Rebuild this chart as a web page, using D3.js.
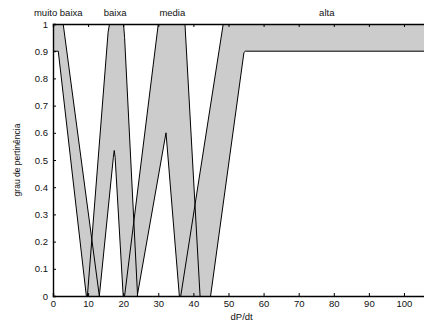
<!DOCTYPE html>
<html><head><meta charset="utf-8">
<script src="https://cdn.jsdelivr.net/npm/d3@7"></script>
<style>
html,body{margin:0;padding:0;background:#fff;}
text{font-family:"Liberation Sans",Arial,Helvetica,sans-serif;fill:#111;}
</style></head>
<body><svg id="c" width="424" height="327"></svg>
<script>
// Membership function data (x = dP/dt, y = membership grade)
const setNames = ["muito baixa", "baixa", "media", "alta"];
const setLabelX = [1.5, 17.7, 34, 78];

const umfMuitoBaixa = [[0,1],[2.9,1],[13.2,0]];
const lmfMuitoBaixa = [[0,0.9],[1.5,0.9],[9.5,0]];

const umfBaixa = [[9.8,0],[15.7,0.97],[16.1,1],[20.1,1],[20.4,0.95],[24.1,0]];
const lmfBaixa = [[13.2,0],[17.2,0.51],[17.45,0.535],[17.7,0.51],[20.0,0]];

const umfMedia = [[20.4,0],[30.0,1],[37.6,1],[41.9,0]];
const lmfMedia = [[24.0,0],[32.2,0.6],[36.0,0]];

const umfAlta = [[36.4,0],[48.5,1],[110,1]];
const lmfAlta = [[44.9,0],[54.4,0.895],[54.8,0.9],[110,0.9]];

const xTicks = [0,10,20,30,40,50,60,70,80,90,100];
const yTicks = [0,0.1,0.2,0.3,0.4,0.5,0.6,0.7,0.8,0.9,1];

const sets = [
  {umf: umfMuitoBaixa, lmf: lmfMuitoBaixa},
  {umf: umfBaixa, lmf: lmfBaixa},
  {umf: umfMedia, lmf: lmfMedia},
  {umf: umfAlta, lmf: lmfAlta}
];

const L = 53, T = 24, B = 296, R = 430.3;
const svg = d3.select("#c");
const x = d3.scaleLinear().domain([0, 107.5]).range([L, R]);
const y = d3.scaleLinear().domain([0, 1]).range([B, T]);

svg.append("defs").append("clipPath").attr("id","clip")
  .append("rect").attr("x", L).attr("y", T).attr("width", R - L).attr("height", B - T);

const g = svg.append("g").attr("clip-path","url(#clip)");
const line = d3.line().x(d => x(d[0])).y(d => y(d[1]));

// footprints of uncertainty
sets.forEach(s => {
  const poly = s.umf.concat(s.lmf.slice().reverse());
  g.append("path").attr("d", line(poly) + "Z")
    .attr("fill", "#cccccc").attr("stroke", "none");
});
// upper and lower membership functions
sets.forEach(s => {
  [s.umf, s.lmf].forEach(p => {
    g.append("path").attr("d", line(p)).attr("fill","none")
      .attr("stroke","#000").attr("stroke-width",1).attr("stroke-linejoin","round");
  });
});

// axes box
const axB = svg.append("g").attr("transform", `translate(0,${B})`)
  .call(d3.axisBottom(x).tickValues(xTicks).tickSize(-3).tickPadding(6).tickFormat(d3.format("d")));
const axT = svg.append("g").attr("transform", `translate(0,${T})`)
  .call(d3.axisTop(x).tickValues(xTicks).tickSize(-3).tickFormat(""));
const axL = svg.append("g").attr("transform", `translate(${L},0)`)
  .call(d3.axisLeft(y).tickValues(yTicks).tickSize(-3).tickPadding(5).tickFormat(d => d === 0 || d === 1 ? d3.format("d")(d) : d3.format(".1f")(d)));
[axB, axT, axL].forEach(a => {
  a.select(".domain").attr("stroke","#000").attr("stroke-width",1.4);
  a.selectAll(".tick line").attr("stroke","#000");
  a.selectAll("text").attr("font-size","9.5px").attr("fill","#111")
   .attr("font-family",'"Liberation Sans",Arial,sans-serif');
});
axB.selectAll("text").attr("dy","0.55em");

// set labels above the plot
svg.selectAll(".setlab").data(setNames).enter().append("text")
  .attr("x", (d,i) => x(setLabelX[i])).attr("y", 16)
  .attr("text-anchor","middle").attr("font-size","9.5px").text(d => d);

// axis titles
svg.append("text").attr("x", (L + R) / 2).attr("y", 320)
  .attr("text-anchor","middle").attr("font-size","9.5px").text("dP/dt");
svg.append("text").attr("transform", `translate(20,${(T + B) / 2}) rotate(-90)`)
  .attr("text-anchor","middle").attr("font-size","8.5px").text("grau de pertinência");
</script></body></html>
